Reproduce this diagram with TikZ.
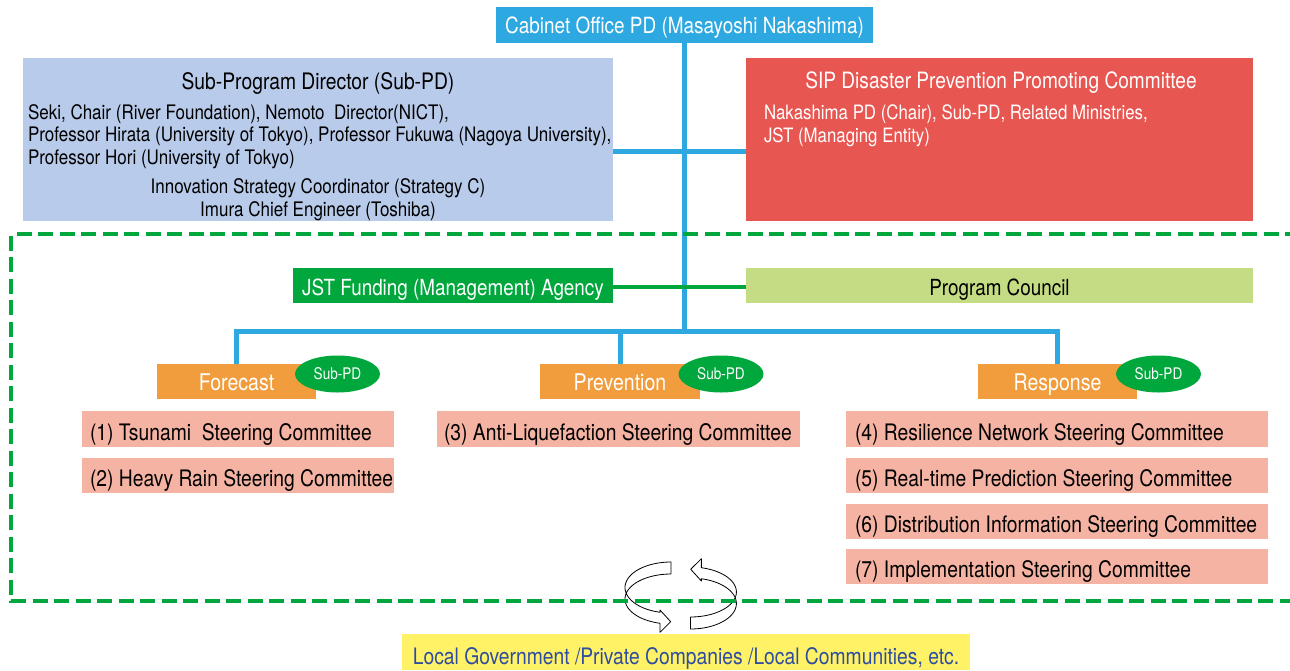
\documentclass[tikz,border=0pt]{standalone}
\usepackage{fontspec}
\setmainfont{TeX Gyre Heros}[FakeStretch=0.85]
\usetikzlibrary{shapes.geometric}
\definecolor{cabblue}{HTML}{2EA8E0}
\definecolor{subblue}{HTML}{B9CBEA}
\definecolor{sipred}{HTML}{E85651}
\definecolor{jstgreen}{HTML}{00A73C}
\definecolor{pcgreen}{HTML}{C4DC84}
\definecolor{orng}{HTML}{F29D3D}
\definecolor{pinkbox}{HTML}{F5B3A3}
\definecolor{yel}{HTML}{FFF267}
\definecolor{navytext}{HTML}{2E4DA0}
\newcommand\lefttext[2]{\makebox[#1][l]{#2}}
\begin{document}
\begin{tikzpicture}[x=1pt,y=-1pt,
  box/.style={inner sep=0pt, outer sep=0pt},
  conn/.style={draw=cabblue, line width=5pt},
  gconn/.style={draw=jstgreen, line width=4.5pt},
  steer/.style={box, fill=pinkbox, minimum height=36pt, text height=22pt, text depth=0pt, font=\fontsize{22.7}{26}\selectfont},
  unit/.style={box, fill=orng, text=white, minimum width=159pt, minimum height=35pt, text height=17pt, text depth=0pt, font=\fontsize{23}{27}\selectfont},
  subpdtag/.style={ellipse, fill=jstgreen, text=white, minimum width=85pt, minimum height=37pt, inner sep=0pt, font=\fontsize{16}{19}\selectfont},
  ribbon/.style={draw=black, fill=white, line width=0.8pt, line join=round},
  gdash/.style={draw=jstgreen, line width=4pt, dash pattern=on 15pt off 6.5pt}
]
\useasboundingbox (0,0) rectangle (1290,670);

% top level
\node[box, fill=cabblue, text=white, minimum width=377pt, minimum height=36pt, text height=16.6pt, text depth=0pt, font=\fontsize{22.3}{26}\selectfont] (cab) at (684.5,25) {Cabinet Office PD (Masayoshi Nakashima)};

\node[box, fill=subblue, minimum width=590pt, minimum height=163pt] (subpd) at (318,139.5) {};
\node[box, font=\fontsize{22.7}{26}\selectfont] (subpdt) at (318,83) {Sub-Program Director (Sub-PD)};
\node[box, anchor=west, align=left, font=\fontsize{20}{22.5}\selectfont] (subpdm) at (28,136.5) {Seki, Chair (River Foundation), Nemoto~~Director(NICT),\\Professor Hirata (University of Tokyo), Professor Fukuwa (Nagoya University),\\Professor Hori (University of Tokyo)};
\node[box, align=center, font=\fontsize{20}{23}\selectfont] (subpdc) at (318,199.5) {Innovation Strategy Coordinator (Strategy C)\\Imura Chief Engineer (Toshiba)};

\node[box, fill=sipred, minimum width=507pt, minimum height=163pt] (sip) at (999.5,139.5) {};
\node[box, text=white, font=\fontsize{22.5}{26}\selectfont] (sipt) at (1001,83) {SIP Disaster Prevention Promoting Committee};
\node[box, anchor=west, align=left, text=white, font=\fontsize{19.8}{23}\selectfont] (sipm) at (764,125.5) {Nakashima PD (Chair), Sub-PD, Related Ministries,\\JST (Managing Entity)};

\node[box, fill=jstgreen, text=white, minimum width=320pt, minimum height=35pt, text height=19pt, text depth=0pt, font=\fontsize{22.2}{26}\selectfont] (jst) at (453,285.5) {JST Funding (Management) Agency};
\node[box, fill=pcgreen, minimum width=507pt, minimum height=35pt, text height=19pt, text depth=0pt, font=\fontsize{22.2}{26}\selectfont] (pc) at (999.5,285.5) {Program Council};

% units
\node[unit] (fc) at (236.5,381.5) {Forecast};
\node[unit, minimum width=160pt] (pv) at (620,381.5) {Prevention};
\node[unit] (rs) at (1057.5,381.5) {Response};
\node[subpdtag] (fct) at (337.5,374) {Sub-PD};
\node[subpdtag] (pvt) at (721,374) {Sub-PD};
\node[subpdtag] (rst) at (1158.5,374) {Sub-PD};

% steering committees
\node[steer, minimum width=312pt] (s1) at (238,429) {\lefttext{296pt}{(1) Tsunami~~Steering Committee}};
\node[steer, minimum width=312pt, minimum height=35pt] (s2) at (238,475.5) {\lefttext{296pt}{(2) Heavy Rain Steering Committee}};
\node[steer, minimum width=363pt] (s3) at (618.5,429) {\lefttext{349pt}{(3) Anti-Liquefaction Steering Committee}};
\node[steer, minimum width=422pt] (s4) at (1057,429) {\lefttext{404pt}{(4) Resilience Network Steering Committee}};
\node[steer, minimum width=422pt, minimum height=35pt] (s5) at (1057,475.5) {\lefttext{404pt}{(5) Real-time Prediction Steering Committee}};
\node[steer, minimum width=422pt, minimum height=35pt] (s6) at (1057,521.5) {\lefttext{404pt}{(6) Distribution Information Steering Committee}};
\node[steer, minimum width=422pt, minimum height=35pt] (s7) at (1057,566.5) {\lefttext{404pt}{(7) Implementation Steering Committee}};

% bottom
\node[box, fill=yel, text=navytext, minimum width=568pt, minimum height=36pt, text height=25pt, text depth=0pt, font=\fontsize{22.7}{26}\selectfont] (loc) at (686,652) {Local Government /Private Companies /Local Communities, etc.};

% connectors
\coordinate (jn) at (684.5,151.5);
\coordinate (hub) at (684.5,331);
\coordinate (gj) at (684.5,287);
\draw[conn] (cab.south) -- (hub);
\draw[conn] (subpd.east |- jn) -- (sip.west |- jn);
\draw[gconn] (jst.east |- gj) -- (pc.west |- gj);
\draw[conn] (fc.north) |- (hub);
\draw[conn] (rs.north) |- (hub);
\draw[conn] (pv.north) |- (hub);

% circular arrows
\draw[ribbon] plot[domain=270:103.8,samples=50] ({671+46*cos(\x)},{587.5+25.5*sin(\x)}) -- (660,610) -- (670.7,621.7) -- (660,632.3) -- plot[domain=103.8:270,samples=50] ({671+46*cos(\x)},{599+25*sin(\x)}) -- cycle;
\draw[ribbon, rotate around={180:(680.7,595.5)}] plot[domain=270:103.8,samples=50] ({671+46*cos(\x)},{587.5+25.5*sin(\x)}) -- (660,610) -- (670.7,621.7) -- (660,632.3) -- plot[domain=103.8:270,samples=50] ({671+46*cos(\x)},{599+25*sin(\x)}) -- cycle;

% dashed boundary
\draw[gdash] (1300,234.3) -- (11.3,234.3) -- (11.3,601.3) -- (1300,601.3);
\end{tikzpicture}
\end{document}
